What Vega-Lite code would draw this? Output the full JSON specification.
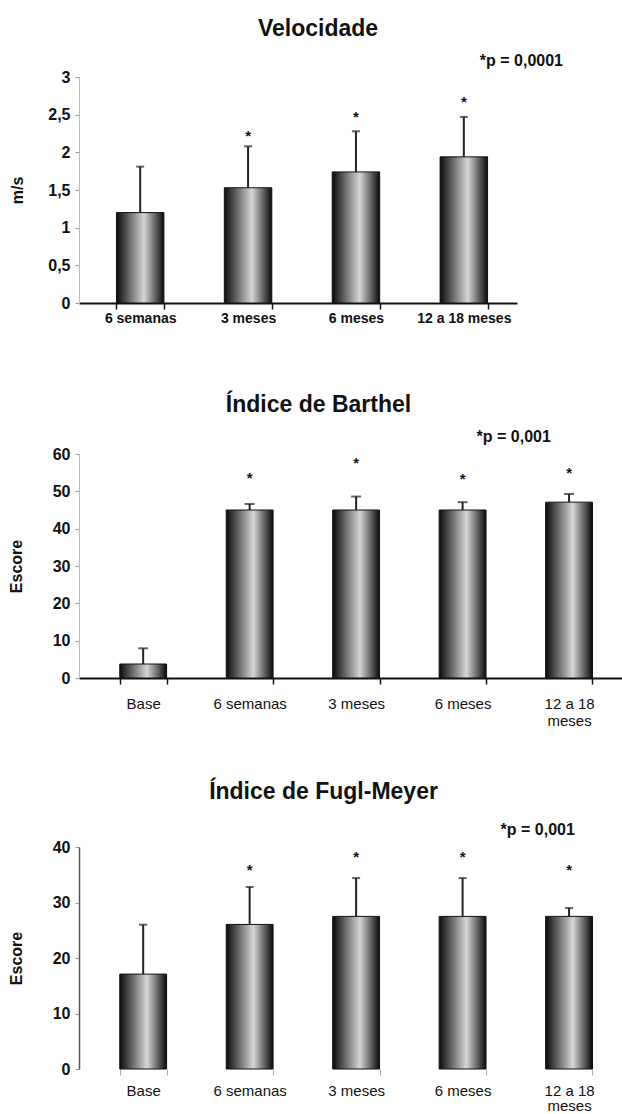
{
  "$schema": "https://vega.github.io/schema/vega-lite/v6.json",
  "background": "white",
  "padding": {"left": 8, "top": 18, "right": 0, "bottom": 0},
  "config": {
    "view": {"stroke": null},
    "font": "Liberation Sans",
    "title": {"fontSize": 23, "font": "Liberation Sans", "fontWeight": "bold", "color": "#111"},
    "axisY": {
      "grid": false, "domainColor": "#bbbbbb", "domainWidth": 1, "tickColor": "#999999", "tickSize": 4,
      "labelFont": "Liberation Sans", "labelFontSize": 16, "labelFontWeight": "bold", "labelColor": "#111",
      "labelPadding": 5, "labelOverlap": false, "titleFont": "Liberation Sans", "titleFontSize": 16, "titleFontWeight": "bold",
      "titleColor": "#111", "titlePadding": 22
    },
    "axisX": {
      "grid": false, "domainColor": "#111", "domainWidth": 2, "tickColor": "#111", "tickWidth": 1.5,
      "tickSize": 6, "tickBand": "extent", "labelAngle": 0, "labelFont": "Liberation Sans",
      "labelColor": "#111", "title": null
    }
  },
  "datasets": {
    "vel": [
      {"cat": "6 semanas", "media": 1.2, "sup": 1.81, "marca": null},
      {"cat": "3 meses", "media": 1.53, "sup": 2.08, "marca": 2.22},
      {"cat": "6 meses", "media": 1.74, "sup": 2.28, "marca": 2.47},
      {"cat": "12 a 18 meses", "media": 1.94, "sup": 2.47, "marca": 2.67}
    ],
    "bar": [
      {"cat": "Base", "media": 3.75, "sup": 7.95, "marca": null},
      {"cat": "6 semanas", "media": 45.0, "sup": 46.6, "marca": 53.5},
      {"cat": "3 meses", "media": 45.0, "sup": 48.6, "marca": 57.7},
      {"cat": "6 meses", "media": 45.0, "sup": 47.1, "marca": 53.2},
      {"cat": "12 a 18 meses", "media": 47.1, "sup": 49.3, "marca": 54.8}
    ],
    "fug": [
      {"cat": "Base", "media": 17.1, "sup": 26.0, "marca": null},
      {"cat": "6 semanas", "media": 26.05, "sup": 32.8, "marca": 35.8},
      {"cat": "3 meses", "media": 27.5, "sup": 34.4, "marca": 38.2},
      {"cat": "6 meses", "media": 27.5, "sup": 34.4, "marca": 38.2},
      {"cat": "12 a 18 meses", "media": 27.5, "sup": 29.0, "marca": 35.8}
    ]
  },
  "spacing": 69,
  "vconcat": [
    {
      "width": 438, "height": 226,
      "title": {"text": "Velocidade", "dx": 20, "offset": 12},
      "data": {"name": "vel"},
      "layer": [
        {
          "mark": {"type": "bar", "stroke": "#111", "strokeWidth": 1,
            "color": {"gradient": "linear", "x1": 0, "y1": 0, "x2": 1, "y2": 0,
              "stops": [{"offset": 0, "color": "#0a0a0a"}, {"offset": 0.58, "color": "#d6d6d6"}, {"offset": 1, "color": "#0a0a0a"}]}},
          "encoding": {
            "x": {"field": "cat", "type": "nominal", "sort": null,
              "scale": {"paddingInner": 0.56, "paddingOuter": 0.31, "align": 0.56},
              "axis": {"labelFontSize": 14, "labelFontWeight": "bold", "labelPadding": 2}},
            "y": {"field": "media", "type": "quantitative", "title": "m/s",
              "scale": {"domain": [0, 3]},
              "axis": {"values": [0, 0.5, 1, 1.5, 2, 2.5, 3], "labelExpr": "replace(format(datum.value, '~g'), '.', ',')"}}
          }
        },
        {
          "mark": {"type": "rule", "color": "#222", "strokeWidth": 2},
          "encoding": {
            "x": {"field": "cat", "type": "nominal", "sort": null},
            "y": {"field": "media", "type": "quantitative", "title": "m/s",
              "axis": {"values": [0, 0.5, 1, 1.5, 2, 2.5, 3], "labelExpr": "replace(format(datum.value, '~g'), '.', ',')"}},
            "y2": {"field": "sup"}
          }
        },
        {
          "mark": {"type": "tick", "color": "#222", "thickness": 2, "size": 8},
          "encoding": {
            "x": {"field": "cat", "type": "nominal", "sort": null},
            "y": {"field": "sup", "type": "quantitative", "title": "m/s",
              "axis": {"values": [0, 0.5, 1, 1.5, 2, 2.5, 3], "labelExpr": "replace(format(datum.value, '~g'), '.', ',')"}}
          }
        },
        {
          "transform": [{"filter": "isValid(datum.marca)"}],
          "mark": {"type": "text", "text": "*", "fontSize": 15, "fontWeight": "bold", "baseline": "middle", "color": "#111"},
          "encoding": {
            "x": {"field": "cat", "type": "nominal", "sort": null},
            "y": {"field": "marca", "type": "quantitative", "title": "m/s",
              "axis": {"values": [0, 0.5, 1, 1.5, 2, 2.5, 3], "labelExpr": "replace(format(datum.value, '~g'), '.', ',')"}}
          }
        },
        {
          "data": {"values": [{"p": "*p = 0,0001"}]},
          "mark": {"type": "text", "align": "left", "baseline": "middle", "dx": 16, "dy": -16, "fontSize": 16, "fontWeight": "bold", "color": "#111"},
          "encoding": {
            "text": {"field": "p"},
            "x": {"datum": "12 a 18 meses"},
            "y": {"datum": 3, "type": "quantitative", "title": "m/s",
              "axis": {"values": [0, 0.5, 1, 1.5, 2, 2.5, 3], "labelExpr": "replace(format(datum.value, '~g'), '.', ',')"}}
          }
        }
      ]
    },
    {
      "spacing": 53,
      "vconcat": [
        {
          "width": 543, "height": 224,
          "title": {"text": "Índice de Barthel", "dx": -32, "offset": 12},
          "data": {"name": "bar"},
          "layer": [
            {
              "mark": {"type": "bar", "stroke": "#111", "strokeWidth": 1,
                "color": {"gradient": "linear", "x1": 0, "y1": 0, "x2": 1, "y2": 0,
                  "stops": [{"offset": 0, "color": "#0a0a0a"}, {"offset": 0.58, "color": "#d6d6d6"}, {"offset": 1, "color": "#0a0a0a"}]}},
              "encoding": {
                "x": {"field": "cat", "type": "nominal", "sort": null,
                  "scale": {"paddingInner": 0.56, "paddingOuter": 0.33, "align": 0.58},
                  "axis": {"labelFontSize": 15, "labelPadding": 12, "labelExpr": "datum.label == '12 a 18 meses' ? ['12 a 18', 'meses'] : datum.label"}},
                "y": {"field": "media", "type": "quantitative", "title": "Escore",
                  "scale": {"domain": [0, 60]},
                  "axis": {"values": [0, 10, 20, 30, 40, 50, 60], "titlePadding": 28}}
              }
            },
            {
              "mark": {"type": "rule", "color": "#222", "strokeWidth": 2},
              "encoding": {
                "x": {"field": "cat", "type": "nominal", "sort": null},
                "y": {"field": "media", "type": "quantitative", "title": "Escore", "axis": {"values": [0, 10, 20, 30, 40, 50, 60], "titlePadding": 28}},
                "y2": {"field": "sup"}
              }
            },
            {
              "mark": {"type": "tick", "color": "#222", "thickness": 2, "size": 10},
              "encoding": {
                "x": {"field": "cat", "type": "nominal", "sort": null},
                "y": {"field": "sup", "type": "quantitative", "title": "Escore", "axis": {"values": [0, 10, 20, 30, 40, 50, 60], "titlePadding": 28}}
              }
            },
            {
              "transform": [{"filter": "isValid(datum.marca)"}],
              "mark": {"type": "text", "text": "*", "fontSize": 15, "fontWeight": "bold", "baseline": "middle", "color": "#111"},
              "encoding": {
                "x": {"field": "cat", "type": "nominal", "sort": null},
                "y": {"field": "marca", "type": "quantitative", "title": "Escore", "axis": {"values": [0, 10, 20, 30, 40, 50, 60], "titlePadding": 28}}
              }
            },
            {
              "data": {"values": [{"p": "*p = 0,001"}]},
              "mark": {"type": "text", "align": "left", "baseline": "middle", "dx": 14, "dy": -17, "fontSize": 16, "fontWeight": "bold", "color": "#111"},
              "encoding": {
                "text": {"field": "p"},
                "x": {"datum": "6 meses"},
                "y": {"datum": 60, "type": "quantitative", "title": "Escore", "axis": {"values": [0, 10, 20, 30, 40, 50, 60], "titlePadding": 28}}
              }
            }
          ]
        },
        {
          "width": 543, "height": 222,
          "title": {"text": "Índice de Fugl-Meyer", "dx": -27, "offset": 18},
          "data": {"name": "fug"},
          "layer": [
            {
              "mark": {"type": "bar", "stroke": "#111", "strokeWidth": 1,
                "color": {"gradient": "linear", "x1": 0, "y1": 0, "x2": 1, "y2": 0,
                  "stops": [{"offset": 0, "color": "#0a0a0a"}, {"offset": 0.58, "color": "#d6d6d6"}, {"offset": 1, "color": "#0a0a0a"}]}},
              "encoding": {
                "x": {"field": "cat", "type": "nominal", "sort": null,
                  "scale": {"paddingInner": 0.56, "paddingOuter": 0.33, "align": 0.58},
                  "axis": {"domain": false, "tickColor": "#aaaaaa", "tickWidth": 1, "labelFontSize": 15, "labelPadding": 8, "labelLineHeight": 15, "labelExpr": "datum.label == '12 a 18 meses' ? ['12 a 18', 'meses'] : datum.label"}},
                "y": {"field": "media", "type": "quantitative", "title": "Escore",
                  "scale": {"domain": [0, 40]},
                  "axis": {"values": [0, 10, 20, 30, 40], "domainColor": "#555555", "domainWidth": 1.5, "titlePadding": 28}}
              }
            },
            {
              "mark": {"type": "rule", "color": "#222", "strokeWidth": 2},
              "encoding": {
                "x": {"field": "cat", "type": "nominal", "sort": null},
                "y": {"field": "media", "type": "quantitative", "title": "Escore", "axis": {"values": [0, 10, 20, 30, 40], "domainColor": "#555555", "domainWidth": 1.5, "titlePadding": 28}},
                "y2": {"field": "sup"}
              }
            },
            {
              "mark": {"type": "tick", "color": "#222", "thickness": 2, "size": 8},
              "encoding": {
                "x": {"field": "cat", "type": "nominal", "sort": null},
                "y": {"field": "sup", "type": "quantitative", "title": "Escore", "axis": {"values": [0, 10, 20, 30, 40], "domainColor": "#555555", "domainWidth": 1.5, "titlePadding": 28}}
              }
            },
            {
              "transform": [{"filter": "isValid(datum.marca)"}],
              "mark": {"type": "text", "text": "*", "fontSize": 15, "fontWeight": "bold", "baseline": "middle", "color": "#111"},
              "encoding": {
                "x": {"field": "cat", "type": "nominal", "sort": null},
                "y": {"field": "marca", "type": "quantitative", "title": "Escore", "axis": {"values": [0, 10, 20, 30, 40], "domainColor": "#555555", "domainWidth": 1.5, "titlePadding": 28}}
              }
            },
            {
              "data": {"values": [{"p": "*p = 0,001"}]},
              "mark": {"type": "text", "align": "left", "baseline": "middle", "dx": 38, "dy": -17, "fontSize": 16, "fontWeight": "bold", "color": "#111"},
              "encoding": {
                "text": {"field": "p"},
                "x": {"datum": "6 meses"},
                "y": {"datum": 40, "type": "quantitative", "title": "Escore", "axis": {"values": [0, 10, 20, 30, 40], "domainColor": "#555555", "domainWidth": 1.5, "titlePadding": 28}}
              }
            }
          ]
        }
      ]
    }
  ]
}
